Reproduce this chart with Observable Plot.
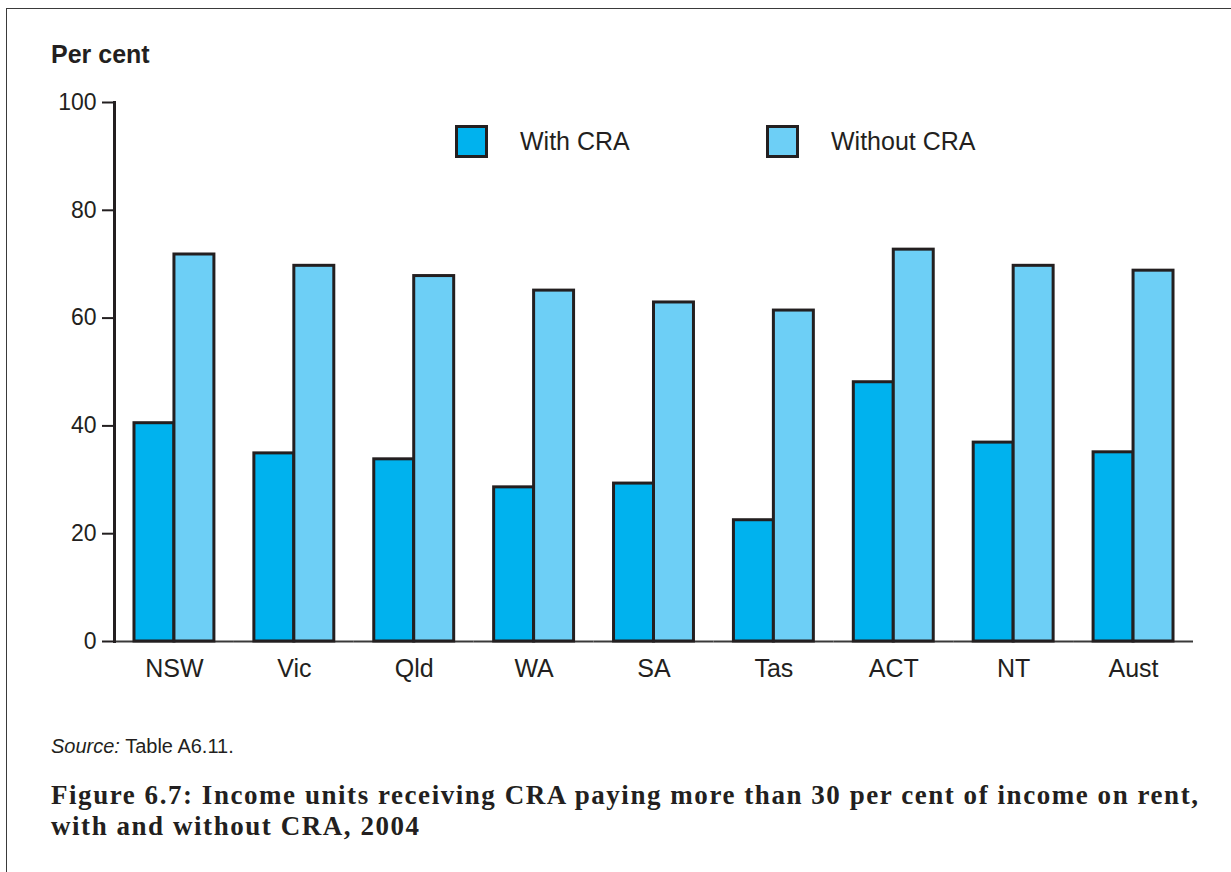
<!DOCTYPE html>
<html>
<head>
<meta charset="utf-8">
<script src="https://cdn.jsdelivr.net/npm/d3@7"></script>
<script src="https://cdn.jsdelivr.net/npm/@observablehq/plot@0.6"></script>
<style>
  html, body { margin: 0; padding: 0; background: #fff; }
  body { width: 1231px; height: 872px; position: relative; overflow: hidden; font-family: "Liberation Sans", Arial, sans-serif; color: #231f20; }
  #frame { position: absolute; left: 6px; top: 8px; width: 1240px; height: 900px; border: 1px solid #3a3a3a; box-sizing: border-box; }
  #chart { position: absolute; left: 0; top: 0; }
  #ylabel { position: absolute; left: 51px; top: 40px; font-size: 25px; font-weight: bold; line-height: 28px; }
  .leg { position: absolute; top: 125px; display: flex; align-items: center; font-size: 25px; }
  .sw { width: 27px; height: 27px; border: 3px solid #231f20; margin-right: 32px; }
  #source { position: absolute; left: 51px; top: 734px; font-size: 20px; line-height: 24px; }
  #title { position: absolute; left: 51px; top: 780px; width: 1175px; font-family: "Liberation Serif", "DejaVu Serif", serif; font-weight: bold; font-size: 27px; letter-spacing: 1.55px; line-height: 31px; white-space: nowrap; }
</style>
</head>
<body>
<div id="frame"></div>
<div id="chart"></div>
<div id="ylabel">Per cent</div>
<div id="legend"></div>
<div id="source"><i>Source:</i> Table A6.11.</div>
<div id="title">Figure 6.7: Income units receiving CRA paying more than 30 per cent of income on rent,<br>with and without CRA, 2004</div>
<script>
const states = ["NSW", "Vic", "Qld", "WA", "SA", "Tas", "ACT", "NT", "Aust"];
const series = ["With CRA", "Without CRA"];
const withCRA = [40.5, 34.9, 33.8, 28.6, 29.3, 22.5, 48.1, 36.9, 35.1];
const withoutCRA = [71.8, 69.7, 67.8, 65.1, 62.9, 61.4, 72.7, 69.7, 68.8];
const colors = ["#00b2ee", "#6dcff6"];
const yTicks = [0, 20, 40, 60, 80, 100];

const data = [];
states.forEach((s, i) => {
  data.push({state: s, series: series[0], value: withCRA[i]});
  data.push({state: s, series: series[1], value: withoutCRA[i]});
});

const plot = Plot.plot({
  width: 1231,
  height: 700,
  marginLeft: 114,
  marginRight: 38,
  marginTop: 102,
  marginBottom: 59,
  style: {fontFamily: "Liberation Sans, Arial, sans-serif", fontSize: "23px", color: "#231f20", background: "transparent"},
  fx: {domain: states, padding: 0, round: false, label: null},
  x: {domain: series, paddingInner: 0, paddingOuter: 0.5, round: false, axis: null},
  y: {domain: [0, 100], label: null},
  color: {domain: series, range: colors},
  marks: [
    Plot.ruleY([0], {stroke: "#3a3a3a", strokeWidth: 2}),
    Plot.axisY({ticks: yTicks, tickSize: 12, tickPadding: 6, strokeWidth: 2, fontSize: 23, label: null}),
    Plot.frame({anchor: "left", facetAnchor: "left", stroke: "#231f20", strokeWidth: 3}),
    Plot.axisFx({anchor: "bottom", tickSize: 0, tickPadding: 18, fontSize: 25, label: null}),
    Plot.barY(data, {fx: "state", x: "series", y: "value", fill: "series", stroke: "#231f20", strokeWidth: 3, inset: 0})
  ]
});
document.getElementById("chart").appendChild(plot);

const legendPos = [455, 766];
const leg = document.getElementById("legend");
series.forEach((s, i) => {
  const d = document.createElement("div");
  d.className = "leg";
  d.style.left = legendPos[i] + "px";
  const sw = document.createElement("div");
  sw.className = "sw";
  sw.style.background = colors[i];
  const t = document.createElement("span");
  t.textContent = s;
  d.appendChild(sw); d.appendChild(t);
  leg.appendChild(d);
});
</script>
</body>
</html>
